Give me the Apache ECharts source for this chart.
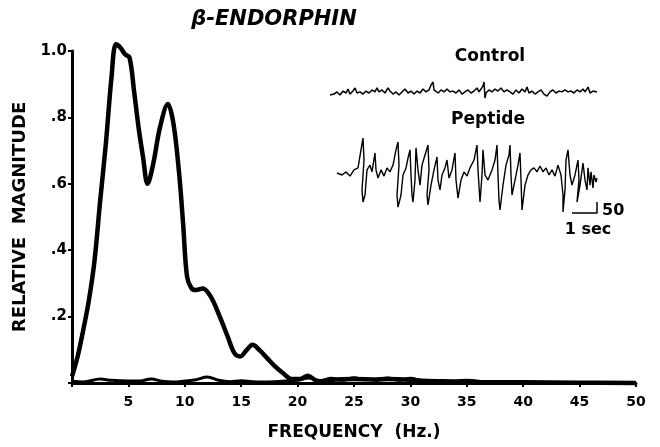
<!DOCTYPE html>
<html>
<head>
<meta charset="utf-8">
<script src="https://cdn.jsdelivr.net/npm/echarts@6/dist/echarts.min.js"></script>
<style>html,body{margin:0;padding:0;background:#fff}#c{width:660px;height:447px}</style>
</head>
<body>
<div id="c"></div>
<script>
// Power spectra: [frequency Hz, relative magnitude]
const peptideSpectrum = [
  [0,0.02],[0.5,0.08],[1,0.16],[1.5,0.25],[2,0.37],[2.5,0.55],[3,0.72],[3.5,0.92],
  [3.9,1.02],[4.3,1.01],[4.7,0.99],[5.1,0.98],[5.5,0.88],[5.9,0.77],[6.3,0.68],[6.7,0.60],
  [7.2,0.66],[7.8,0.77],[8.5,0.84],[9,0.78],[9.5,0.63],[9.85,0.48],[10.2,0.32],[10.6,0.285],
  [11,0.28],[11.6,0.285],[12.3,0.26],[13.1,0.2],[13.8,0.14],[14.4,0.09],[14.9,0.08],[15.5,0.1],
  [16,0.115],[16.6,0.1],[17.3,0.075],[18,0.05],[18.7,0.03],[19.5,0.012],[20.2,0.012],[20.9,0.022],
  [21.5,0.01],[22,0.005],[23,0.01],[25,0.012],[27,0.01],[28,0.012],[30,0.01],[31,0.007],
  [33,0.005],[35,0.003],[40,0.002],[45,0.001],[50,0]
];
const controlSpectrum = [
  [0,0.005],[1,0.003],[2.5,0.012],[3.5,0.008],[5,0.006],[6,0.006],[7,0.012],[8,0.005],
  [9,0.003],[10,0.006],[11,0.01],[12,0.018],[13,0.008],[14,0.004],[15,0.007],[16,0.004],
  [17,0.003],[18,0.004],[19,0.006],[20,0.008],[21,0.015],[22,0.006],[23,0.014],[24,0.008],
  [25,0.016],[26,0.01],[27,0.012],[28,0.015],[29,0.008],[30,0.014],[31,0.007],[33,0.004],
  [35,0.008],[37,0.003],[40,0.002],[45,0.001],[50,0]
];
// EEG traces: [time s, amplitude uV]
const controlTrace = [
  [0,-9],[0.16,-5],[0.28,5],[0.4,-9],[0.52,9],[0.64,0],[0.72,18],[0.8,-5],[0.92,9],[1,23],
  [1.08,0],[1.2,5],[1.32,-5],[1.44,9],[1.56,0],[1.68,14],[1.8,5],[1.88,23],[1.96,5],[2.08,14],
  [2.2,0],[2.32,23],[2.4,9],[2.52,-5],[2.64,5],[2.76,-9],[2.88,5],[3,18],[3.12,0],[3.24,9],
  [3.36,-5],[3.48,9],[3.6,0],[3.72,18],[3.84,5],[3.96,14],[4.04,36],[4.12,50],[4.16,14],[4.24,23],
  [4.32,0],[4.44,14],[4.56,5],[4.68,18],[4.8,5],[4.92,9],[5.04,0],[5.16,14],[5.28,-5],[5.4,5],
  [5.52,14],[5.64,0],[5.76,9],[5.88,23],[5.96,5],[6.04,18],[6.12,32],[6.16,50],[6.2,-23],[6.24,0],
  [6.36,14],[6.48,5],[6.6,18],[6.72,9],[6.84,23],[6.96,5],[7.08,14],[7.2,5],[7.32,-5],[7.44,14],
  [7.56,0],[7.68,18],[7.8,5],[7.88,27],[7.96,0],[8.08,9],[8.2,-5],[8.32,5],[8.44,14],[8.56,-5],
  [8.68,-14],[8.8,5],[8.92,14],[9.04,0],[9.16,9],[9.28,5],[9.4,14],[9.52,5],[9.64,9],[9.76,0],
  [9.88,14],[10,5],[10.12,18],[10.2,5],[10.32,27],[10.4,0],[10.52,9],[10.68,5]
];
const peptideTrace = [
  [0,0],[0.2,-9],[0.36,5],[0.52,-14],[0.68,14],[0.84,23],[0.96,105],[1.04,159],[1.08,59],[1,-77],
  [1.04,-132],[1.12,-100],[1.2,14],[1.32,36],[1.4,5],[1.52,91],[1.56,14],[1.64,-23],[1.76,14],[1.88,-14],
  [2,23],[2.12,5],[2.24,36],[2.36,105],[2.44,141],[2.48,36],[2.4,-100],[2.44,-155],[2.56,-100],[2.64,-9],
  [2.76,23],[2.84,68],[2.92,105],[2.96,-9],[3,-100],[3.04,-132],[3.12,-32],[3.16,114],[3.24,14],[3.32,-55],
  [3.4,36],[3.52,82],[3.64,127],[3.68,14],[3.6,-100],[3.64,-145],[3.76,-55],[3.88,14],[4,73],[4.04,-32],
  [4.12,-77],[4.2,-9],[4.32,23],[4.4,59],[4.48,-23],[4.6,14],[4.72,91],[4.76,-32],[4.84,-114],[4.96,-32],
  [5.08,5],[5.2,-14],[5.32,23],[5.48,59],[5.6,127],[5.64,14],[5.72,-132],[5.8,-9],[5.84,105],[5.92,-9],
  [6.04,-32],[6.2,14],[6.32,59],[6.4,127],[6.44,-9],[6.48,-123],[6.52,-168],[6.64,-55],[6.76,36],[6.88,82],
  [6.92,127],[6.96,-9],[7,-100],[7.12,-32],[7.24,36],[7.32,91],[7.36,-32],[7.4,-168],[7.52,-55],[7.64,-9],
  [7.76,14],[7.88,23],[8,5],[8.12,32],[8.24,5],[8.36,23],[8.48,-9],[8.6,14],[8.72,-14],[8.84,36],
  [8.96,-9],[9.04,-100],[9.04,-177],[9.12,-77],[9.16,59],[9.24,105],[9.32,-9],[9.4,-55],[9.52,-9],[9.64,59],
  [9.68,-32],[9.6,-132],[9.72,-55],[9.84,45],[9.92,-32],[10,-77],[10.04,23],[10.12,-55],[10.16,5],[10.24,-68],
  [10.28,-9],[10.36,-41],[10.4,-23]
];
// Calibration bar: 1 sec horizontal, 50 uV vertical
const scaleBar = [[9.4,-182],[10.4,-182],[10.4,-132]];
const yTickLabels = {0.2:'.2',0.4:'.4',0.6:'.6',0.8:'.8',1:'1.0'};

const F = 'DejaVu Sans';
const chart = echarts.init(document.getElementById('c'), null, {renderer:'canvas'});
chart.setOption({
  animation:false,
  backgroundColor:'#fff',
  grid:[
    {left:72, right:24, top:51, bottom:64},
    {left:330, width:267, top:49, height:99},
    {left:337, width:260, top:129, height:99}
  ],
  xAxis:[
    {type:'value', gridIndex:0, min:0, max:50, interval:5,
     name:'FREQUENCY  (Hz.)', nameLocation:'middle', nameGap:41,
     nameTextStyle:{fontFamily:F, fontWeight:'bold', fontSize:17, color:'#000'},
     axisLine:{lineStyle:{color:'#000', width:3}},
     axisTick:{show:true, length:4, lineStyle:{color:'#000', width:2}},
     splitLine:{show:false},
     axisLabel:{margin:12, fontFamily:F, fontWeight:'bold', fontSize:14, color:'#000',
       formatter:v=> v===0 ? '' : String(v)}},
    {type:'value', gridIndex:1, min:0, max:10.68, show:false},
    {type:'value', gridIndex:2, min:0, max:10.4, show:false}
  ],
  yAxis:[
    {type:'value', gridIndex:0, min:0, max:1, interval:0.2,
     name:'RELATIVE  MAGNITUDE', nameLocation:'middle', nameGap:38,
     nameTextStyle:{fontFamily:F, fontWeight:'bold', fontSize:18, color:'#000'},
     axisLine:{show:true, lineStyle:{color:'#000', width:3}},
     axisTick:{show:true, length:4, lineStyle:{color:'#000', width:2}},
     splitLine:{show:false},
     axisLabel:{margin:5, fontFamily:F, fontWeight:'bold', fontSize:15, color:'#000',
       formatter:v=> yTickLabels[Math.round(v*10)/10] || ''}},
    {type:'value', gridIndex:1, min:-250, max:200, show:false},
    {type:'value', gridIndex:2, min:-250, max:200, show:false}
  ],
  series:[
    {type:'line', xAxisIndex:0, yAxisIndex:0, data:controlSpectrum, symbol:'none', smooth:0.4,
     clip:false, lineStyle:{color:'#000', width:3}},
    {type:'line', xAxisIndex:0, yAxisIndex:0, data:peptideSpectrum, symbol:'none', smooth:0.35,
     clip:false, lineStyle:{color:'#000', width:4.5}},
    {type:'line', xAxisIndex:1, yAxisIndex:1, data:controlTrace, symbol:'none',
     clip:false, lineStyle:{color:'#000', width:1.5}},
    {type:'line', xAxisIndex:2, yAxisIndex:2, data:peptideTrace, symbol:'none',
     clip:false, lineStyle:{color:'#000', width:1.4}},
    {type:'line', xAxisIndex:2, yAxisIndex:2, data:scaleBar, symbol:'none',
     clip:false, lineStyle:{color:'#000', width:1.5}}
  ],
  graphic:[
    {type:'text', x:274, y:20, style:{text:'β-ENDORPHIN', fontFamily:F, fontWeight:'bold', fontStyle:'italic', fontSize:21, fill:'#000', align:'center', verticalAlign:'middle'}},
    {type:'text', x:490, y:57, style:{text:'Control', fontFamily:F, fontWeight:'bold', fontSize:17, fill:'#000', align:'center', verticalAlign:'middle'}},
    {type:'text', x:488, y:120, style:{text:'Peptide', fontFamily:F, fontWeight:'bold', fontSize:17, fill:'#000', align:'center', verticalAlign:'middle'}},
    {type:'text', x:602, y:211, style:{text:'50', fontFamily:F, fontWeight:'bold', fontSize:16, fill:'#000', align:'left', verticalAlign:'middle'}},
    {type:'text', x:588, y:230, style:{text:'1 sec', fontFamily:F, fontWeight:'bold', fontSize:16, fill:'#000', align:'center', verticalAlign:'middle'}}
  ]
});
</script>
</body>
</html>
